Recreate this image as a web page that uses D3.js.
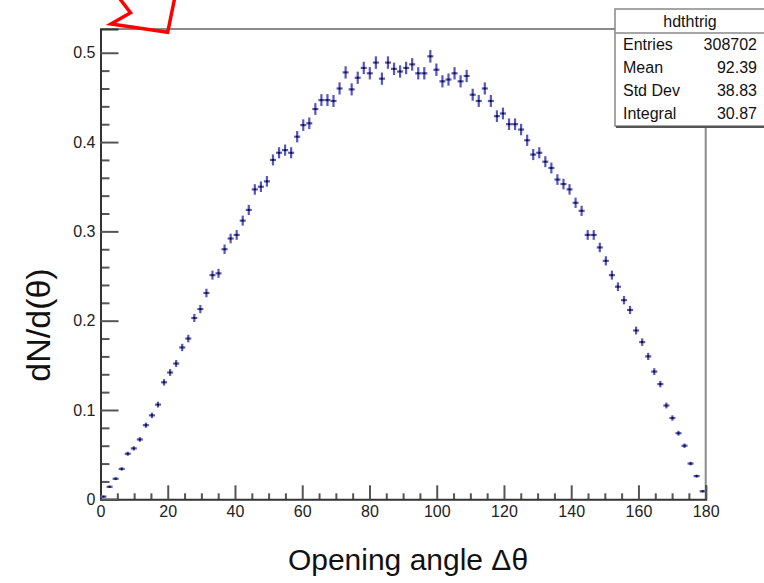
<!DOCTYPE html>
<html>
<head>
<meta charset="utf-8">
<script src="https://cdn.jsdelivr.net/npm/d3@7/dist/d3.min.js"></script>
<style>
  html, body { margin: 0; padding: 0; background: #fff; }
  svg { display: block; }
  text { font-family: "Liberation Sans", Arial, Helvetica, sans-serif; }
</style>
</head>
<body>
<svg id="chart" width="764" height="583"></svg>
<script>
// ---- data ----
const binLow = 0, binHigh = 180, nBins = 100;
const binContents = [
  0.003, 0.014, 0.023, 0.034, 0.051, 0.057, 0.067, 0.083, 0.094, 0.106,
  0.131, 0.142, 0.152, 0.170, 0.180, 0.203, 0.213, 0.231, 0.251, 0.253,
  0.280, 0.292, 0.296, 0.312, 0.324, 0.347, 0.350, 0.356, 0.380, 0.388,
  0.391, 0.388, 0.406, 0.419, 0.421, 0.437, 0.447, 0.447, 0.446, 0.460,
  0.478, 0.459, 0.472, 0.483, 0.477, 0.489, 0.471, 0.489, 0.482, 0.479,
  0.483, 0.487, 0.477, 0.477, 0.496, 0.481, 0.468, 0.470, 0.477, 0.468,
  0.474, 0.453, 0.446, 0.460, 0.446, 0.429, 0.432, 0.420, 0.420, 0.414,
  0.402, 0.386, 0.388, 0.378, 0.371, 0.358, 0.353, 0.347, 0.332, 0.323,
  0.296, 0.296, 0.282, 0.267, 0.251, 0.238, 0.223, 0.212, 0.189, 0.176,
  0.160, 0.143, 0.129, 0.105, 0.091, 0.074, 0.060, 0.040, 0.026, 0.009
];
const statsTitle = "hdthtrig";
const statsLabels = ["Entries", "Mean", "Std Dev", "Integral"];
const statsValues = ["308702", "92.39", "38.83", "30.87"];
const entries = 308702, integral = 30.87;
const xMajorTicks = [0, 20, 40, 60, 80, 100, 120, 140, 160, 180];
const yMajorTicks = [0, 0.1, 0.2, 0.3, 0.4, 0.5];
const xTitle = "Opening angle Δθ";
const yTitle = "dN/d(θ)";
const yMax = 0.5266;

// ---- layout ----
const svg = d3.select("#chart");
const L = 100.5, R = 705.7, T = 29, B = 499.3;
const x = d3.scaleLinear().domain([binLow, binHigh]).range([L, R]);
const y = d3.scaleLinear().domain([0, yMax]).range([B, T]);
const binW = (binHigh - binLow) / nBins;
const weight = integral / entries;

// frame (top + right)
svg.append("line").attr("x1", L).attr("x2", R).attr("y1", T).attr("y2", T)
  .attr("stroke", "#8a8a8a").attr("stroke-width", 2);
svg.append("line").attr("x1", R).attr("x2", R).attr("y1", T).attr("y2", B)
  .attr("stroke", "#8a8a8a").attr("stroke-width", 2);

// x axis minor ticks
const xMinor = d3.range(0, 181, 5).filter(v => v % 20 !== 0);
svg.append("g").attr("transform", `translate(0,${B})`)
  .call(d3.axisBottom(x).tickValues(xMinor).tickSize(-6).tickFormat(""))
  .call(g => g.select(".domain").remove())
  .call(g => g.selectAll("line").attr("stroke", "#555").attr("stroke-width", 2));
// x axis major
svg.append("g").attr("transform", `translate(0,${B})`)
  .call(d3.axisBottom(x).tickValues(xMajorTicks).tickSize(-14).tickPadding(6).tickFormat(d3.format("d")))
  .call(g => g.select(".domain").attr("stroke", "#333").attr("stroke-width", 2))
  .call(g => g.selectAll("line").attr("stroke", "#555").attr("stroke-width", 2))
  .call(g => g.selectAll("text").attr("font-size", 16).attr("fill", "#222")
    .attr("font-family", "Liberation Sans, Arial, sans-serif"));

// y axis minor ticks
const yMinor = d3.range(0, 26).map(i => i * 0.02).filter(v => Math.abs(v * 10 - Math.round(v * 10)) > 1e-6 && v <= yMax);
svg.append("g").attr("transform", `translate(${L},0)`)
  .call(d3.axisLeft(y).tickValues(yMinor).tickSize(-9).tickFormat(""))
  .call(g => g.select(".domain").remove())
  .call(g => g.selectAll("line").attr("stroke", "#555").attr("stroke-width", 2));
// y axis major
svg.append("g").attr("transform", `translate(${L},0)`)
  .call(d3.axisLeft(y).tickValues(yMajorTicks).tickSize(-18).tickPadding(5)
    .tickFormat(d => d === 0 ? "0" : d.toFixed(1)))
  .call(g => g.select(".domain").attr("stroke", "#333").attr("stroke-width", 2))
  .call(g => g.selectAll("line").attr("stroke", "#555").attr("stroke-width", 2))
  .call(g => g.selectAll("text").attr("font-size", 16).attr("fill", "#222")
    .attr("font-family", "Liberation Sans, Arial, sans-serif"));

// data points with error bars
const pts = binContents.map((v, i) => ({
  c: binLow + (i + 0.5) * binW, v, e: Math.sqrt(v * weight)
}));
const gp = svg.append("g");
gp.selectAll("line.ey").data(pts).join("line").attr("class", "ey")
  .attr("x1", d => x(d.c)).attr("x2", d => x(d.c))
  .attr("y1", d => y(d.v - d.e)).attr("y2", d => y(d.v + d.e))
  .attr("stroke", "#5656c4").attr("stroke-width", 2.2);
gp.selectAll("line.ex").data(pts).join("line").attr("class", "ex")
  .attr("x1", d => x(d.c - binW / 2)).attr("x2", d => x(d.c + binW / 2))
  .attr("y1", d => y(d.v)).attr("y2", d => y(d.v))
  .attr("stroke", "#5656c4").attr("stroke-width", 2.2);
gp.selectAll("rect.m").data(pts).join("rect").attr("class", "m")
  .attr("x", d => x(d.c) - 1).attr("y", d => y(d.v) - 1)
  .attr("width", 2).attr("height", 2).attr("fill", "#111");

// stats box
const sb = svg.append("g");
sb.append("rect").attr("x", 615).attr("y", 9).attr("width", 150).attr("height", 117)
  .attr("fill", "#fff").attr("stroke", "#888").attr("stroke-width", 1.5);
sb.append("line").attr("x1", 616).attr("x2", 764).attr("y1", 127).attr("y2", 127)
  .attr("stroke", "#555").attr("stroke-width", 2);
sb.append("line").attr("x1", 615).attr("x2", 764).attr("y1", 33).attr("y2", 33)
  .attr("stroke", "#888").attr("stroke-width", 1.5);
sb.append("text").attr("x", 690).attr("y", 27).attr("text-anchor", "middle")
  .attr("font-size", 16).attr("fill", "#111").text(statsTitle);
statsLabels.forEach((lab, i) => {
  sb.append("text").attr("x", 623).attr("y", 50 + 23 * i)
    .attr("font-size", 16).attr("fill", "#111").text(lab);
  sb.append("text").attr("x", 757).attr("y", 50 + 23 * i).attr("text-anchor", "end")
    .attr("font-size", 16).attr("fill", "#111").text(statsValues[i]);
});

// axis titles
svg.append("text").attr("x", 408).attr("y", 570).attr("text-anchor", "middle")
  .attr("font-size", 30).attr("fill", "#111").text(xTitle);
svg.append("text").attr("transform", "translate(50,325) rotate(-90)")
  .attr("text-anchor", "middle").attr("font-size", 34).attr("fill", "#111").text(yTitle);

// red arrow annotation
svg.append("polyline")
  .attr("points", "120,-1 130.5,12.7 111,24 167.7,32.3 174.5,-1")
  .attr("fill", "none").attr("stroke", "#ff0000").attr("stroke-width", 3.5)
  .attr("stroke-linejoin", "miter");
</script>
</body>
</html>
